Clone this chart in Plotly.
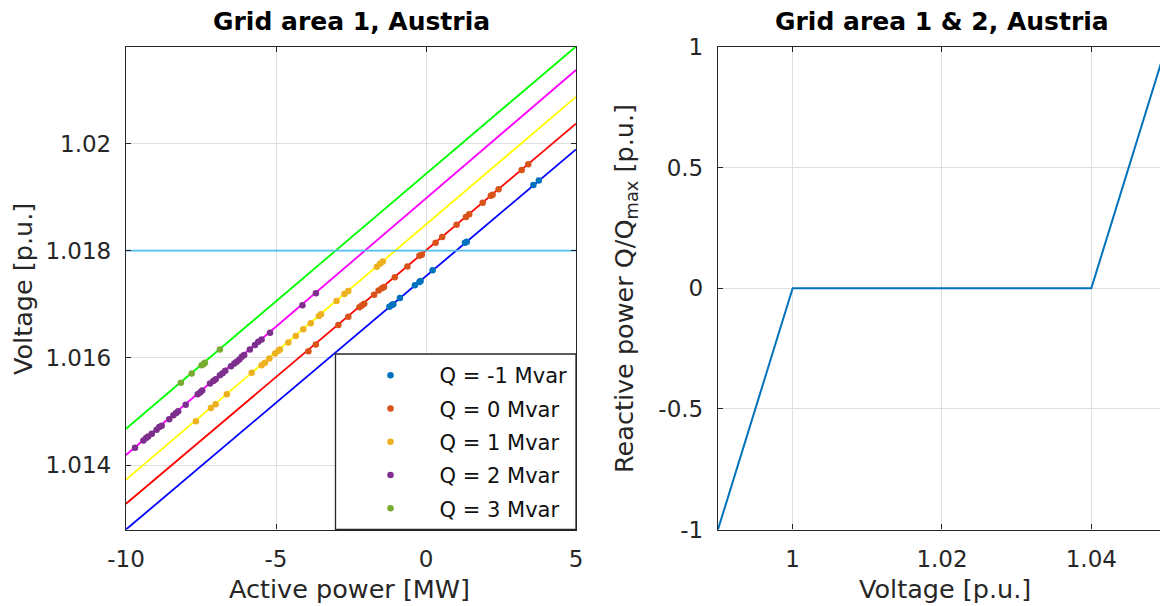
import plotly.graph_objects as go

W, H = 1160, 606

# ---------------- Left panel data: Voltage vs active power ----------------
P_ENDS = [-10, 5]
line_qm1_v = [1.01280, 1.01989]
line_q0_v = [1.01328, 1.02037]
line_q1_v = [1.01373, 1.02087]
line_q2_v = [1.01419, 1.02137]
line_q3_v = [1.01468, 1.02181]
v_limit = [1.018, 1.018]

q_m1_p = [-1.22, -1.14, -1.09, -0.87, -0.37, -0.22, -0.18, 0.22, 1.30, 1.36, 3.58, 3.76]
q_m1_v = [1.016957, 1.016988, 1.017000, 1.017119, 1.017356, 1.017418, 1.017437, 1.017637,
          1.018148, 1.018167, 1.019227, 1.019308]

q_0_p = [-3.92, -3.67, -2.92, -2.59, -2.22, -2.14, -2.06, -1.73, -1.58, -1.47, -1.40, -1.04, -0.62,
         -0.22, -0.14, 0.32, 0.54, 1.02, 1.33, 1.44, 1.89, 2.16, 2.22, 2.42, 3.19, 3.41]
q_0_v = [1.016127, 1.016252, 1.016614, 1.016770, 1.016944, 1.016976, 1.017013, 1.017181, 1.017256,
         1.017300, 1.017325, 1.017506, 1.017705, 1.017905, 1.017923, 1.018148, 1.018254, 1.018485,
         1.018628, 1.018678, 1.018896, 1.019027, 1.019046, 1.019146, 1.019507, 1.019613]

q_1_p = [-7.67, -7.17, -7.01, -6.64, -5.81, -5.48, -5.37, -5.22, -5.03, -4.92, -4.87, -4.59, -4.34,
         -4.09, -3.84, -3.57, -3.50, -2.98, -2.72, -2.59, -1.64, -1.53, -1.44]
q_1_v = [1.014818, 1.015067, 1.015136, 1.015323, 1.015722, 1.015865, 1.015909, 1.015990, 1.016084,
         1.016134, 1.016158, 1.016289, 1.016408, 1.016533, 1.016645, 1.016782, 1.016813, 1.017063,
         1.017194, 1.017250, 1.017699, 1.017755, 1.017799]

q_2_p = [-9.70, -9.42, -9.33, -9.26, -9.14, -8.98, -8.89, -8.81, -8.56, -8.42, -8.33, -8.26, -8.01,
         -7.61, -7.53, -7.46, -7.20, -7.09, -7.01, -6.87, -6.78, -6.69, -6.50, -6.39, -6.31, -6.22,
         -6.14, -6.06, -5.87, -5.70, -5.59, -5.48, -5.20, -4.12, -3.67]
q_2_v = [1.014325, 1.014462, 1.014506, 1.014537, 1.014587, 1.014662, 1.014712, 1.014737, 1.014855,
         1.014930, 1.014973, 1.015005, 1.015129, 1.015323, 1.015354, 1.015391, 1.015522, 1.015572,
         1.015603, 1.015678, 1.015716, 1.015759, 1.015847, 1.015897, 1.015928, 1.015971, 1.016021,
         1.016053, 1.016158, 1.016240, 1.016302, 1.016346, 1.016470, 1.016982, 1.017206]

q_3_p = [-8.17, -7.81, -7.48, -7.42, -7.37, -6.87]
q_3_v = [1.015535, 1.015709, 1.015865, 1.015884, 1.015909, 1.016158]

series_names = ["Q = -1 Mvar", "Q = 0 Mvar", "Q = 1 Mvar", "Q = 2 Mvar", "Q = 3 Mvar"]

left_xticks = [-10, -5, 0, 5]
left_xticktext = ["-10", "-5", "0", "5"]
left_yticks = [1.014, 1.016, 1.018, 1.02]
left_yticktext = ["1.014", "1.016", "1.018", "1.02"]

# ---------------- Right panel data: Q(U) characteristic ----------------
qu_voltage = [0.99, 1.00, 1.04, 1.05]
qu_q = [-1, 0, 0, 1]
right_xticks = [1.0, 1.02, 1.04]
right_xticktext = ["1", "1.02", "1.04"]
right_yticks = [-1, -0.5, 0, 0.5, 1]
right_yticktext = ["-1", "-0.5", "0", "0.5", "1"]

# ---------------- Styling ----------------
FONT = "DejaVu Sans, Liberation Sans, sans-serif"
AX = "#262626"
GRID = "#dfdfdf"
line_colors = ["#0000ff", "#ff0000", "#ffff00", "#ff00ff", "#00ff00"]
dot_colors = ["#0072bd", "#d95319", "#edb120", "#7e2f8e", "#77ac30"]

fig = go.Figure()

for vals, col in zip([line_qm1_v, line_q0_v, line_q1_v, line_q2_v, line_q3_v], line_colors):
    fig.add_trace(go.Scatter(x=P_ENDS, y=vals, mode="lines", line=dict(color=col, width=1.8),
                             showlegend=False, hoverinfo="skip", xaxis="x", yaxis="y"))
fig.add_trace(go.Scatter(x=P_ENDS, y=v_limit, mode="lines", line=dict(color="#4dbeee", width=1.8),
                         showlegend=False, hoverinfo="skip", xaxis="x", yaxis="y"))

pts = [(q_m1_p, q_m1_v), (q_0_p, q_0_v), (q_1_p, q_1_v), (q_2_p, q_2_v), (q_3_p, q_3_v)]
for i, ((px_, pv_), name, col) in enumerate(zip(pts, series_names, dot_colors)):
    fig.add_trace(go.Scatter(x=px_, y=pv_, mode="markers", name=name,
                             marker=dict(color=col, size=6.5), legendgroup=f"g{i}",
                             xaxis="x", yaxis="y"))

fig.add_trace(go.Scatter(x=qu_voltage, y=qu_q, mode="lines", line=dict(color="#0072bd", width=2),
                         showlegend=False, xaxis="x2", yaxis="y2"))

def fx(p):
    return p / W

def fy(p):
    return 1 - p / H

axis_common = dict(showline=True, linecolor=AX, linewidth=1.3, ticks="inside", ticklen=5,
                   tickcolor=AX, tickwidth=1.3, showgrid=True, gridcolor=GRID, gridwidth=1,
                   zeroline=False, automargin=False,
                   tickfont=dict(family=FONT, size=23, color=AX))

fig.update_layout(
    width=W, height=H, autosize=False,
    margin=dict(l=0, r=0, t=0, b=0),
    paper_bgcolor="white", plot_bgcolor="white",
    font=dict(family=FONT, color=AX),
    xaxis=dict(domain=[fx(126), fx(576)], range=[-10, 5], tickvals=left_xticks,
               ticktext=left_xticktext, mirror="ticks", anchor="y", ticklabelstandoff=9,
               **axis_common),
    yaxis=dict(domain=[fy(529.5), fy(47)], range=[1.0128, 1.0218], tickvals=left_yticks,
               ticktext=left_yticktext, mirror="ticks", anchor="x", ticklabelstandoff=9,
               **axis_common),
    xaxis2=dict(domain=[fx(718), 1.0], range=[0.99, 1.0492], tickvals=right_xticks,
                ticktext=right_xticktext, mirror="ticks", anchor="y2", ticklabelstandoff=9,
                **axis_common),
    yaxis2=dict(domain=[fy(529.5), fy(47)], range=[-1, 1], tickvals=right_yticks,
                ticktext=right_yticktext, mirror=False, anchor="x2", ticklabelstandoff=9,
                **axis_common),
    showlegend=True,
    legend=dict(x=fx(341.5), y=fy(355), xanchor="left", yanchor="top",
                bgcolor="rgba(0,0,0,0)", borderwidth=0, itemwidth=88,
                traceorder="grouped", tracegroupgap=3,
                font=dict(family=FONT, size=21, color="#111111")),
    shapes=[dict(type="rect", xref="paper", yref="paper", x0=fx(335.5), x1=fx(576),
                 y0=fy(529.5), y1=fy(354), fillcolor="white", line=dict(color=AX, width=1.3),
                 layer="above")],
    annotations=[
        dict(text="<b>Grid area 1, Austria</b>", x=fx(351), y=fy(22), xref="paper", yref="paper",
             showarrow=False, xanchor="center", yanchor="middle",
             font=dict(family=FONT, size=25, color="#000000")),
        dict(text="<b>Grid area 1 & 2, Austria</b>", x=fx(942), y=fy(22), xref="paper", yref="paper",
             showarrow=False, xanchor="center", yanchor="middle",
             font=dict(family=FONT, size=25, color="#000000")),
        dict(text="Active power [MW]", x=fx(349), y=fy(589), xref="paper", yref="paper",
             showarrow=False, xanchor="center", yanchor="middle",
             font=dict(family=FONT, size=25.5, color=AX)),
        dict(text="Voltage [p.u.]", x=fx(945), y=fy(589), xref="paper", yref="paper",
             showarrow=False, xanchor="center", yanchor="middle",
             font=dict(family=FONT, size=25.5, color=AX)),
        dict(text="Voltage [p.u.]", x=fx(23), y=fy(289), xref="paper", yref="paper",
             showarrow=False, xanchor="center", yanchor="middle", textangle=-90,
             font=dict(family=FONT, size=25.5, color=AX)),
        dict(text="Reactive power Q/Q<sub>max</sub> [p.u.]", x=fx(625), y=fy(289),
             xref="paper", yref="paper", showarrow=False, xanchor="center", yanchor="middle",
             textangle=-90, font=dict(family=FONT, size=25.5, color=AX)),
    ],
)

fig.write_html("out.html")
